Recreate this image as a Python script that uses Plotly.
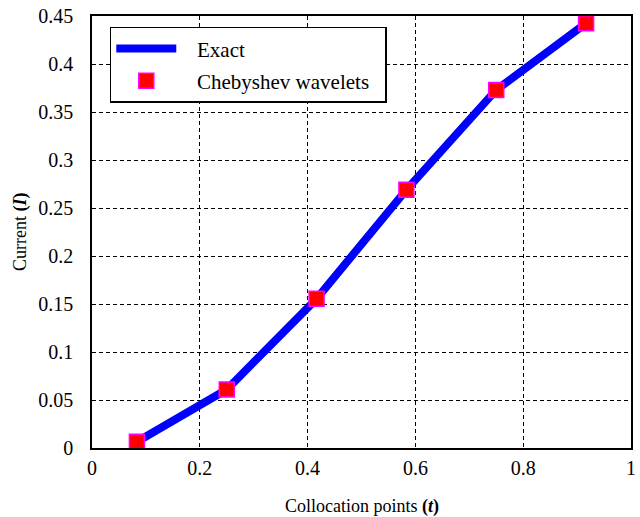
import plotly.graph_objects as go

t_points = [1/12, 3/12, 5/12, 7/12, 9/12, 11/12]
exact_vals = [0.0065, 0.061, 0.1555, 0.269, 0.373, 0.4425]
cheb_vals = [0.0065, 0.061, 0.1555, 0.269, 0.373, 0.4425]
x_ticks = [0, 0.2, 0.4, 0.6, 0.8, 1]
y_ticks = [0, 0.05, 0.1, 0.15, 0.2, 0.25, 0.3, 0.35, 0.4, 0.45]
x_title = "Collocation points <b>(<i>t</i>)</b>"
y_title = "Current <b>(<i>I</i>)</b>"

FONT = "Liberation Serif"
L, R, T, B, W, H = 92, 9, 16, 69, 640, 517
pw, ph = W - L - R, H - T - B

fig = go.Figure()
fig.add_trace(go.Scatter(x=t_points, y=exact_vals, mode="lines", name="   Exact",
                         legendgroup="a",
                         line=dict(color="#0000FF", width=8)))
fig.add_trace(go.Scatter(x=t_points, y=cheb_vals, mode="markers", name="   Chebyshev wavelets  ",
                         legendgroup="b",
                         marker=dict(symbol="square", size=15, color="#FF0000",
                                     line=dict(color="#FF00FF", width=1.5))))

axis_common = dict(showline=True, linecolor="black", linewidth=1.5, mirror=True,
                   showgrid=True, gridcolor="black", griddash="4px,3px", gridwidth=1,
                   zeroline=False, ticks="", automargin=False,
                   tickfont=dict(family=FONT, size=20, color="black"))

fig.update_layout(
    width=W, height=H,
    margin=dict(l=L, r=R, t=T, b=B),
    paper_bgcolor="white", plot_bgcolor="white",
    font=dict(family=FONT, color="black"),
    xaxis=dict(range=[0, 1], tickvals=x_ticks, ticktext=[f"{v:g}" for v in x_ticks],
               ticklabelstandoff=1, **axis_common),
    yaxis=dict(range=[0, 0.45], tickvals=y_ticks, ticktext=[f"{v:g}" for v in y_ticks],
               ticklabelstandoff=13, **axis_common),
    legend=dict(x=0.033, y=0.975, xanchor="left", yanchor="top",
                bgcolor="white", bordercolor="black", borderwidth=1.5,
                font=dict(family=FONT, size=21), itemwidth=60,
                traceorder="grouped", tracegroupgap=2),
    showlegend=True,
    annotations=[
        dict(text=x_title, xref="paper", yref="paper", x=0.5, y=-(507 - (H - B)) / ph,
             xanchor="center", yanchor="middle", showarrow=False,
             font=dict(family=FONT, size=18, color="black")),
        dict(text=y_title, xref="paper", yref="paper", x=(20 - L) / pw, y=0.5,
             xanchor="center", yanchor="middle", showarrow=False, textangle=-90,
             font=dict(family=FONT, size=18, color="black")),
    ],
)

fig.write_html("out.html")
